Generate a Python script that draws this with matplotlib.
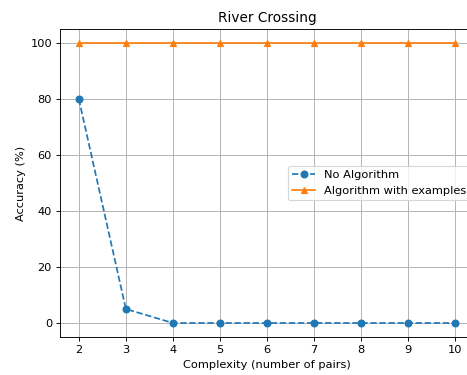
import matplotlib
matplotlib.use("Agg")
import matplotlib.pyplot as plt

# complexity levels and accuracies
complexity = [2, 3, 4, 5, 6, 7, 8, 9, 10]
acc_no_algo = [80, 5, 0, 0, 0, 0, 0, 0, 0]
acc_algo_examples = [100, 100, 100, 100, 100, 100, 100, 100, 100]

dpi = 82
fig = plt.figure(figsize=(467 / dpi, 375 / dpi), dpi=dpi)
# the original was cropped on the right, so the axes run past the edge
ax = fig.add_axes([60 / 467, 38 / 375, 414 / 467, 308 / 375])

ax.plot(complexity, acc_no_algo, marker='o', linestyle='--', label="No Algorithm")
ax.plot(complexity, acc_algo_examples, marker='^', linestyle='-', label="Algorithm with examples")

ax.set_title("River Crossing")
ax.set_xlabel("Complexity (number of pairs)")
ax.set_ylabel("Accuracy (%)")
ax.set_xticks(complexity)
ax.set_ylim(-5, 105)
ax.grid(True)
ax.legend(loc='center left', bbox_to_anchor=(0.536, 0.5))

fig.savefig("out.png", dpi=dpi)
